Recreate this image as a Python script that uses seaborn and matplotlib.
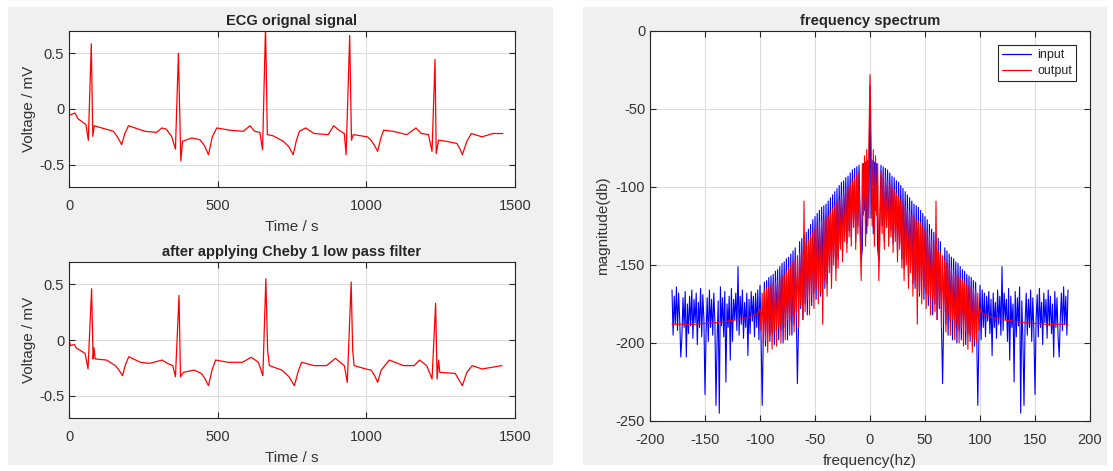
import numpy as np
import pandas as pd
import matplotlib
matplotlib.use("Agg")
import matplotlib.pyplot as plt
import seaborn as sns
from matplotlib.patches import Rectangle
from matplotlib.lines import Line2D

# ECG original signal: landmark samples (time, mV)
ecg_t = [0, 20, 31, 42, 57, 65, 75, 80, 85, 97,
         149, 163, 177, 188, 200, 222, 255, 295, 312, 327, 345, 358,
         368, 376, 382, 413, 440, 456, 469, 482, 497, 540, 586, 609,
         624, 642, 651, 661, 667, 686, 721, 740, 754, 765, 775, 796,
         824, 872, 890, 908, 926, 932, 944, 950, 956, 1004,
         1016, 1028, 1038, 1048, 1058, 1089, 1137, 1167, 1185, 1209, 1221, 1231,
         1235, 1243, 1269, 1305, 1315, 1323, 1338, 1353, 1389, 1425, 1459]
ecg_v = [-0.057, -0.036, -0.09, -0.11, -0.14, -0.28, 0.585, -0.245, -0.15, -0.16,
         -0.2, -0.25, -0.32, -0.22, -0.15, -0.17, -0.2, -0.21, -0.17, -0.18, -0.245, -0.36,
         0.5, -0.463, -0.29, -0.26, -0.275, -0.33, -0.41, -0.25, -0.17, -0.19, -0.2, -0.15,
         -0.2, -0.21, -0.365, 0.75, -0.23, -0.24, -0.29, -0.34, -0.41, -0.28, -0.2, -0.17,
         -0.22, -0.23, -0.15, -0.19, -0.22, -0.41, 0.66, -0.28, -0.23, -0.25,
         -0.28, -0.33, -0.38, -0.27, -0.19, -0.2, -0.23, -0.17, -0.22, -0.23, -0.38, 0.445,
         -0.40, -0.28, -0.29, -0.31, -0.36, -0.41, -0.29, -0.22, -0.25, -0.22, -0.22]

# after the Chebyshev low pass filter
flt_t = [0, 5, 18, 24, 54, 64, 76, 81, 84, 88,
         126, 156, 168, 180, 190, 201, 240, 271, 313, 331, 349, 358,
         370, 375, 385, 421, 445, 458, 469, 481, 493, 535, 583, 613,
         637, 652, 662, 668, 674, 716, 740, 758, 770, 782, 824,
         866, 896, 926, 936, 949, 954, 959, 998, 1016, 1028, 1038, 1050, 1077,
         1125, 1161, 1179, 1203, 1221, 1233, 1238, 1243, 1247,
         1299, 1312, 1323, 1338, 1356, 1389, 1456]
flt_v = [0.0, -0.05, -0.04, -0.07, -0.12, -0.26, 0.46, -0.17, -0.07, -0.17,
         -0.18, -0.23, -0.27, -0.32, -0.22, -0.15, -0.2, -0.21, -0.18, -0.21, -0.23, -0.33,
         0.40, -0.33, -0.29, -0.27, -0.30, -0.35, -0.41, -0.27, -0.18, -0.2, -0.2, -0.155,
         -0.2, -0.32, 0.55, -0.09, -0.23, -0.27, -0.33, -0.41, -0.29, -0.2, -0.23,
         -0.23, -0.165, -0.23, -0.38, 0.52, -0.09, -0.23, -0.26, -0.27, -0.32, -0.38, -0.27, -0.18,
         -0.23, -0.23, -0.18, -0.23, -0.35, 0.33, -0.35, -0.18, -0.29,
         -0.30, -0.36, -0.41, -0.29, -0.23, -0.26, -0.23]

# spectrum is symmetric, values for 0..180 Hz in 1 Hz steps (db)
freq_half = np.arange(0, 181)
input_db = [-35, -120, -83, -130, -84, -115, -85, -140, -147, -118,
            -86, -125, -87, -135, -88, -122, -89, -132, -91, -128,
            -93, -136, -94, -130, -96, -142, -97, -136, -99, -146,
            -101, -152, -103, -145, -105, -158, -107, -150, -109, -162,
            -111, -165, -112, -155, -113, -170, -115, -160, -117, -172,
            -119, -168, -121, -176, -124, -170, -127, -182, -129, -175,
            -131, -185, -133, -178, -135, -190, -226, -182, -139, -188,
            -141, -195, -143, -186, -145, -198, -146, -190, -148, -200,
            -149, -192, -151, -198, -153, -188, -154, -201, -156, -194,
            -157, -199, -158, -193, -160, -202, -161, -195, -240, -197,
            -163, -198, -166, -190, -168, -196, -170, -186, -167, -194,
            -172, -208, -168, -190, -174, -197, -166, -188, -170, -195,
            -151, -192, -168, -185, -172, -199, -165, -211, -170, -190,
            -175, -225, -167, -196, -171, -189, -164, -245, -173, -198,
            -240, -187, -168, -195, -172, -190, -166, -199, -171, -193,
            -233, -185, -169, -196, -165, -190, -174, -201, -168, -187,
            -172, -197, -166, -189, -170, -194, -175, -209, -167, -190,
            -171, -196, -209, -185, -168, -192, -164, -188, -170, -195,
            -166]

# output: noisy part 0..100 Hz, then the smooth stop band
out_freq_a = np.arange(0, 101)
output_db_a = [-28, -70, -125, -76, -138, -80, -118, -85, -160, -132,
               -90, -130, -92, -140, -94, -126, -96, -138, -98, -132,
               -100, -142, -102, -135, -104, -148, -106, -140, -108, -152,
               -110, -160, -112, -150, -114, -165, -116, -155, -118, -170,
               -119, -160, -121, -188, -122, -168, -123, -175, -125, -165,
               -127, -178, -129, -170, -131, -182, -134, -172, -136, -180,
               -109, -185, -140, -176, -142, -190, -144, -180, -146, -193,
               -148, -182, -150, -195, -152, -185, -154, -198, -156, -188,
               -157, -200, -158, -190, -160, -202, -161, -192, -162, -204,
               -163, -195, -164, -206, -165, -198, -166, -200, -168, -192,
               -178]
out_freq_b = [102, 105, 110, 120, 130, 140, 150, 160, 170, 180]
output_db_b = [-181, -182, -183.5, -185, -186, -187, -187.5, -188, -188, -188]

ecg_yticks = [-0.5, 0, 0.5]
ecg_ylabels = ["-0.5", "0", "0.5"]
ecg_xticks = [0, 500, 1000, 1500]
legend_labels = ["input", "output"]

sns.set_style("ticks")
plt.rcParams["font.family"] = ["Liberation Sans", "DejaVu Sans"]
plt.rcParams["axes.unicode_minus"] = False

fig = plt.figure(figsize=(11.13, 4.71), dpi=100)
W, H = 1113, 471
bg = "#f0f0f0"
fig.add_artist(Rectangle((8 / W, 6 / H), 545 / W, 458 / H, transform=fig.transFigure,
                         facecolor=bg, edgecolor="none", zorder=0))
fig.add_artist(Rectangle((583 / W, 6 / H), 524 / W, 458 / H, transform=fig.transFigure,
                         facecolor=bg, edgecolor="none", zorder=0))

ink = "#262626"
txt = "#333333"


def style(ax):
    ax.set_facecolor("white")
    ax.grid(True, color="#dcdcdc", lw=0.8)
    ax.set_axisbelow(True)
    for s in ax.spines.values():
        s.set_visible(True)
        s.set_color(ink)
        s.set_linewidth(0.8)
    ax.tick_params(direction="in", length=4, width=0.8, top=True, right=True,
                   colors=ink, labelsize=10.5, labelcolor=txt)
    ax.tick_params(axis="x", pad=8.5)


def ecg_axes(rect, t, v, title):
    ax = fig.add_axes(rect)
    sns.lineplot(x=t, y=v, ax=ax, color="red", lw=0.9, estimator=None)
    ax.set_xlim(0, 1500)
    ax.set_ylim(-0.7, 0.7)
    ax.set_xticks(ecg_xticks)
    ax.set_yticks(ecg_yticks)
    ax.set_yticklabels(ecg_ylabels)
    style(ax)
    ax.set_title(title, fontsize=10.5, fontweight="bold", pad=4)
    ax.set_xlabel("Time / s", fontsize=11, color=txt, labelpad=5)
    ax.set_ylabel("Voltage / mV", fontsize=11, color=txt, labelpad=2)
    return ax


ecg_axes([69 / W, 1 - 187 / H, 446 / W, 156 / H], ecg_t, ecg_v, "ECG orignal signal")
ecg_axes([69 / W, 1 - 418 / H, 446 / W, 156 / H], flt_t, flt_v,
         "after applying Cheby 1 low pass filter")

# frequency spectrum
spec_in = pd.DataFrame({
    "f": np.concatenate([-freq_half[:0:-1], freq_half]),
    "db": np.concatenate([np.array(input_db)[:0:-1], input_db]),
})
out_f_half = np.concatenate([out_freq_a, out_freq_b])
out_db_half = np.concatenate([output_db_a, output_db_b])
spec_out = pd.DataFrame({
    "f": np.concatenate([-out_f_half[:0:-1], out_f_half]),
    "db": np.concatenate([out_db_half[:0:-1], out_db_half]),
})

ax3 = fig.add_axes([650 / W, 1 - 421 / H, 440 / W, 390 / H])
sns.lineplot(data=spec_in, x="f", y="db", ax=ax3, color="blue", lw=0.8,
             estimator=None)
sns.lineplot(data=spec_out, x="f", y="db", ax=ax3, color="red", lw=0.8,
             estimator=None)
ax3.set_xlim(-200, 200)
ax3.set_ylim(-250, 0)
ax3.set_xticks(range(-200, 201, 50))
ax3.set_yticks(range(-250, 1, 50))
style(ax3)
ax3.set_title("frequency spectrum", fontsize=10.5, fontweight="bold", pad=4)
ax3.set_xlabel("frequency(hz)", fontsize=11, color=txt, labelpad=5)
ax3.set_ylabel("magnitude(db)", fontsize=11, color=txt, labelpad=4)
handles = [Line2D([], [], color="blue", lw=0.9), Line2D([], [], color="red", lw=0.9)]
leg = ax3.legend(handles, legend_labels, loc="upper right", fontsize=9,
                 frameon=True, fancybox=False, edgecolor=ink, framealpha=1,
                 handlelength=2.3, handletextpad=0.5, borderaxespad=1.1,
                 borderpad=0.35, labelspacing=0.3)
leg.get_frame().set_linewidth(0.8)

fig.savefig("out.png", dpi=100, facecolor="white")
